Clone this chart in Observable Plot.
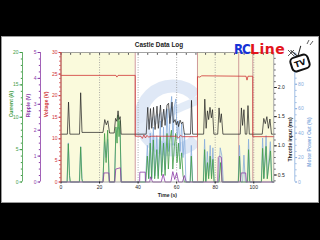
<!DOCTYPE html>
<html><head><meta charset="utf-8">
<script src="https://cdn.jsdelivr.net/npm/d3@7"></script>
<script src="https://cdn.jsdelivr.net/npm/@observablehq/plot@0.6"></script>
<style>
html,body{margin:0;padding:0;background:#000;width:320px;height:240px;overflow:hidden;}
#panel{position:absolute;left:1px;top:36px;width:316px;height:165px;background:#fff;border:1px solid #9a9a9a;}
#wm,#chart,#tv{position:absolute;left:0;top:0;}
#title{position:absolute;left:0;width:318px;top:40.5px;line-height:7px;text-align:center;font:bold 6.4px 'Liberation Sans',Arial,sans-serif;color:#222;}
#logo{position:absolute;left:234px;top:41px;font:bold 14px 'DejaVu Sans',sans-serif;line-height:16px;white-space:nowrap;}
#logo .rc{color:#1632d6;letter-spacing:-1.5px;display:inline-block;transform:scaleX(0.85);transform-origin:left;}
#logo .ln{color:#e3141c;letter-spacing:0.5px;margin-left:-2px;}
</style></head><body>
<div id="panel"></div>
<svg id="wm" width="320" height="240">
  <g opacity="0.28">
    <path d="M196,96 A32,32 0 1 0 196,140" fill="none" stroke="#8fb0e0" stroke-width="13"/>
    <path d="M122,134 C150,118 185,98 222,88 L224,96 C188,106 154,124 126,142 Z" fill="#9ab8e4"/>
  </g>
</svg>
<div id="chart"></div>
<div id="title">Castle Data Log</div>
<div id="logo"><span class="rc">RC</span><span class="ln">Line</span></div>
<svg id="tv" width="320" height="240">
  <g transform="translate(300,63) rotate(-18)">
    <line x1="0" y1="-7" x2="-5" y2="-15" stroke="#222" stroke-width="1"/>
    <line x1="0" y1="-7" x2="6" y2="-16" stroke="#222" stroke-width="1"/>
    <rect x="-9" y="-7" width="18" height="14" rx="4" fill="#fff" stroke="#111" stroke-width="2"/>
    <text x="0" y="3" text-anchor="middle" font-family="DejaVu Sans" font-weight="bold" font-size="8" fill="#111">TV</text>
  </g>
  <g stroke="#333" stroke-width="0.8">
    <line x1="288" y1="50" x2="294" y2="56"/><line x1="288" y1="56" x2="294" y2="50"/>
    <line x1="307" y1="44" x2="309" y2="40"/><line x1="310" y1="45" x2="313" y2="41"/>
  </g>
</svg>
<script>
// ---- data ----
const X_MAX = 110.4;
const xTicks = [0, 20, 40, 60, 80, 100];
const eventTimes = [38.5, 70.8, 92.2, 99.5];
const bandStart = [0, 70.8];
const bandEnd = [38.5, 110.4];

const curTicks = [0, 5, 10, 15, 20];
const ripTicks = [0, 1, 2, 3, 4, 5];
const voltTicks = [0, 5, 10, 15, 20, 25, 30];
const thrTicks = [0.5, 1.0, 1.5, 2.0];
const motTicks = [0, 20, 40, 60, 80];

// Throttle input (ms)
const thrT = [0,3.3,3.9,4.6,9.6,10.2,10.9,21.8,22.7,23.5,24.3,25.2,27.6,28.3,29.0,29.6,30.1,30.7,31.2,44.2,45.0,45.7,46.4,47.1,48.0,48.8,49.8,50.5,51.6,52.3,53.3,54.0,55.0,55.8,56.5,57.6,58.3,59.2,59.8,60.4,61.0,61.8,62.5,63.2,64.0,67.2,67.7,68.3,74.0,74.6,75.3,76.0,76.6,77.3,78.0,78.6,79.3,81.3,82.0,82.6,83.2,84.0,93.0,93.6,94.2,94.9,95.6,96.4,97.0,97.7,104.4,105.2,106.0,106.8,107.6,108.4,109.2,110.4];
const thrV = [1.2,1.2,1.75,1.2,1.2,1.91,1.23,1.23,1.45,1.36,1.43,1.22,1.22,1.47,1.42,1.6,1.45,1.5,1.2,1.2,1.66,1.28,1.64,1.3,1.66,1.28,1.68,1.3,1.7,1.32,1.63,1.35,1.7,1.73,1.38,1.75,1.4,1.45,1.36,1.42,1.33,1.44,1.38,1.41,1.2,1.2,1.78,1.2,1.2,1.8,1.3,1.6,1.45,1.66,1.48,1.62,1.2,1.2,1.65,1.4,1.55,1.2,1.2,1.65,1.35,1.62,1.2,1.2,1.69,1.2,1.2,1.47,1.38,1.5,1.3,1.46,1.2,1.2];

// Voltage (V)
const voltT = [0,28.5,29,29.6,38.5,38.5,41.5,42.2,43,43.8,44.6,45.4,47,60,61,62,63,70.8,70.8,72,73,96,96.5,97,99.5,99.5,110.4];
const voltV = [24.7,24.7,24.3,24.7,24.7,10.6,10.6,10.1,10.9,10.2,10.8,10.4,10.6,10.6,10.2,10.8,10.5,10.5,24.4,24.3,24.6,24.5,23.6,24.5,24.5,10.5,10.5];

// Current (A)
const curT = [0,3.2,3.8,4.4,4.9,9.6,10.2,10.8,11.3,21.8,22.6,23.4,24.2,25,27.8,28.5,29.1,29.6,30.1,30.6,31.2,44,44.8,45.5,46.3,47,47.9,48.6,49.7,50.4,51.5,52.2,53.2,54,55,55.7,56.5,57.3,58,58.8,59.5,60.2,61,61.8,62.6,63.3,64,67,67.6,68.2,73.9,74.5,75.1,76,76.6,77.4,78.1,78.8,79.4,82,82.8,83.6,92,92.6,93.2,96.8,97.3,97.9,104,104.6,105.2,106.4,107,108.7,109.3,110.4];
const curV = [0,0,5.9,1,0,0,5.4,0.5,0,0,7.5,3,8,0,0,8.5,6,10.3,7,9.5,0,0,4,0.5,6,0.5,6.5,0.5,5,0.5,7,1,6,1,7.5,2,6.5,8,2,5.5,7.5,3,6,2,4.5,1,0,0,4,0,0,5,0,3,0.5,4,0.5,3.5,0,0,3,0,0,4,0,0,5,0,0,5.2,0.5,5.5,0.5,4.8,0,0];

// Motor Power Out (%)
const motT = [0,3.1,3.8,4.6,9.5,10.2,11,21.7,22.6,23.4,24.2,25.1,27.7,28.5,29.6,30.6,31.3,43.8,44.8,45.6,46.3,47.1,47.9,48.7,49.7,50.5,51.5,52.3,53.2,54,55,55.8,56.6,57.4,58.1,58.8,59.6,60.3,61,61.8,62.6,63.3,64.1,64.8,67,67.6,68.3,73.8,74.5,75.2,75.9,76.6,77.4,78.1,78.8,79.5,81.8,82.6,83.4,84.2,91.9,92.6,93.3,94.2,94.9,95.6,96.7,97.3,98,103.9,104.6,105.3,106.4,107.1,108.6,109.4,110.4];
const motV = [0,0,32,0,0,29,0,0,33,20,35,0,0,40,45,42,0,0,30,3,40,3,45,5,38,5,50,8,45,10,60,25,55,70,30,62,68,35,50,25,48,20,40,0,0,30,0,0,35,0,25,5,30,5,28,0,0,28,22,0,0,30,0,0,22,0,0,35,0,0,36,3,38,3,33,0,0];

// Ripple (V)
const ripT = [0,21.8,22.3,24.8,25.2,27.9,28.4,30.8,31.2,40.8,40.9,43.7,43.8,46,46.5,47.5,52,53,54,57,58,59,60,61,63,64,65,81.3,81.6,82.2,83.2,83.5,93,93.5,95.8,96.2,110.4];
const ripV = [0,0,0.35,0.35,0,0,0.5,0.55,0,0,0.38,0.38,0,0,0.2,0,0,0.3,0,0,0.4,0.1,0.35,0,0,0.25,0,0,0.95,1.0,0.95,0,0,0.35,0.35,0,0];

// ---- map every series onto the shared vertical scale (voltage units 0–30) ----
const curY = d => d * 30 / 20;
const ripY = d => d * 30 / 5;
const voltY = d => d;
const thrY = d => (d - 0.38) * 30 / (2.6 - 0.38);
const motY = d => d * 30 / 106;

const rows = (T, V) => T.map((t, i) => ({t, v: V[i]}));

const GREEN = "#3f9c45", PURPLE = "#8a3aa6", RED = "#cf3434", BLUE = "#86acdc", BLACK = "#1c1c1c";
const FONT = 5;
const xMinor = d3.range(0, 111, 5);
const curMinor = d3.range(0, 20.01, 1);
const ripMinor = d3.range(0, 5.01, 0.25);
const voltMinor = d3.range(0, 30.01, 1);
const thrMinor = d3.range(0.4, 2.6, 0.1);
const motMinor = d3.range(0, 106, 5);

const minorY = (ticks, f, anchor, dx, color) =>
  Plot.axisY(ticks, {y: f, anchor, dx, tickSize: 1.2, color, tickFormat: () => "", label: null});

const chart = Plot.plot({
  width: 320, height: 240,
  marginLeft: 60.5, marginRight: 46.7, marginTop: 52, marginBottom: 58.5,
  style: {background: "transparent", fontFamily: "'Liberation Sans', Arial, sans-serif", fontSize: "5px", color: "#222"},
  x: {domain: [0, X_MAX], label: null},
  y: {domain: [0, 30], label: null},
  marks: [
    Plot.rect(bandStart, {x1: d => d, x2: (d, i) => bandEnd[i], fill: "#fafadc"}),
    Plot.gridX(xTicks.slice(1), {stroke: "#999", strokeOpacity: 0.8, strokeDasharray: "1,1.5"}),
    Plot.ruleX(eventTimes, {stroke: "#cf9a9a", strokeWidth: 1}),
    Plot.line(rows(motT, motV), {x: "t", y: d => motY(d.v), stroke: BLUE, strokeWidth: 0.8}),
    Plot.line(rows(curT, curV), {x: "t", y: d => curY(d.v), stroke: GREEN, strokeWidth: 0.8}),
    Plot.line(rows(ripT, ripV), {x: "t", y: d => ripY(d.v), stroke: PURPLE, strokeWidth: 0.8}),
    Plot.line(rows(thrT, thrV), {x: "t", y: d => thrY(d.v), stroke: BLACK, strokeWidth: 0.7}),
    Plot.line(rows(voltT, voltV), {x: "t", y: d => voltY(d.v), stroke: RED, strokeWidth: 0.8}),
    Plot.frame({stroke: "#8d8d8d", strokeWidth: 0.8}),

    // x axis
    Plot.axisX(xTicks, {anchor: "bottom", tickSize: 2, tickPadding: 1.5, fontSize: FONT, label: null}),
    Plot.axisX(xMinor, {anchor: "top", tickSize: -1.8, tickFormat: () => "", label: null, stroke: "#555"}),
    Plot.text(["Time (s)"], {frameAnchor: "bottom", dy: 14.5, fontSize: FONT, fontWeight: "bold", fill: "#222"}),

    // Current axis
    Plot.ruleX([0], {y1: 0, y2: 30, dx: -38.5, stroke: GREEN, strokeWidth: 0.8}),
    minorY(curMinor, curY, "left", -38.5, GREEN),
    Plot.axisY(curTicks, {y: d => curY(d), anchor: "left", dx: -38.5, tickSize: 2.5, tickPadding: 1.5, color: GREEN, fontSize: FONT, tickFormat: d => String(d), label: null}),
    Plot.text(["Current (A)"], {frameAnchor: "left", rotate: -90, dx: -49.5, fill: GREEN, fontSize: FONT, fontWeight: "bold"}),

    // Ripple axis
    Plot.ruleX([0], {y1: 0, y2: 30, dx: -20.5, stroke: PURPLE, strokeWidth: 0.8}),
    minorY(ripMinor, ripY, "left", -20.5, PURPLE),
    Plot.axisY(ripTicks, {y: d => ripY(d), anchor: "left", dx: -20.5, tickSize: 2.5, tickPadding: 1.5, color: PURPLE, fontSize: FONT, tickFormat: d => String(d), label: null}),
    Plot.text(["Ripple (V)"], {frameAnchor: "left", rotate: -90, dx: -32.2, fill: PURPLE, fontSize: FONT, fontWeight: "bold"}),

    // Voltage axis
    Plot.ruleX([0], {y1: 0, y2: 30, stroke: RED, strokeWidth: 0.8}),
    minorY(voltMinor, voltY, "left", 0, RED),
    Plot.axisY(voltTicks, {y: d => voltY(d), anchor: "left", tickSize: 2, tickPadding: 1.5, color: RED, fontSize: FONT, tickFormat: d => String(d), label: null}),
    Plot.text(["Voltage (V)"], {frameAnchor: "left", rotate: -90, dx: -14.5, fill: RED, fontSize: FONT, fontWeight: "bold"}),

    // Throttle axis
    minorY(thrMinor, thrY, "right", 0, "#333"),
    Plot.axisY(thrTicks, {y: d => thrY(d), anchor: "right", tickSize: 2.5, tickPadding: 1.5, color: "#222", fontSize: FONT, tickFormat: d => d.toFixed(1), label: null}),
    Plot.text(["Throttle input (ms)"], {frameAnchor: "right", rotate: -90, dx: 16.7, fill: "#222", fontSize: FONT, fontWeight: "bold"}),

    // Motor power axis
    Plot.ruleX([X_MAX], {y1: 0, y2: 30, dx: 21, stroke: BLUE, strokeWidth: 0.8}),
    minorY(motMinor, motY, "right", 21, BLUE),
    Plot.axisY(motTicks, {y: d => motY(d), anchor: "right", dx: 21, tickSize: 1.8, tickPadding: 1.5, color: BLUE, fontSize: FONT, tickFormat: d => String(d), label: null}),
    Plot.text(["Motor Power Out (%)"], {frameAnchor: "right", rotate: -90, dx: 35.7, fill: BLUE, fontSize: FONT, fontWeight: "bold"})
  ]
});
document.getElementById("chart").append(chart);
</script>
</body></html>
